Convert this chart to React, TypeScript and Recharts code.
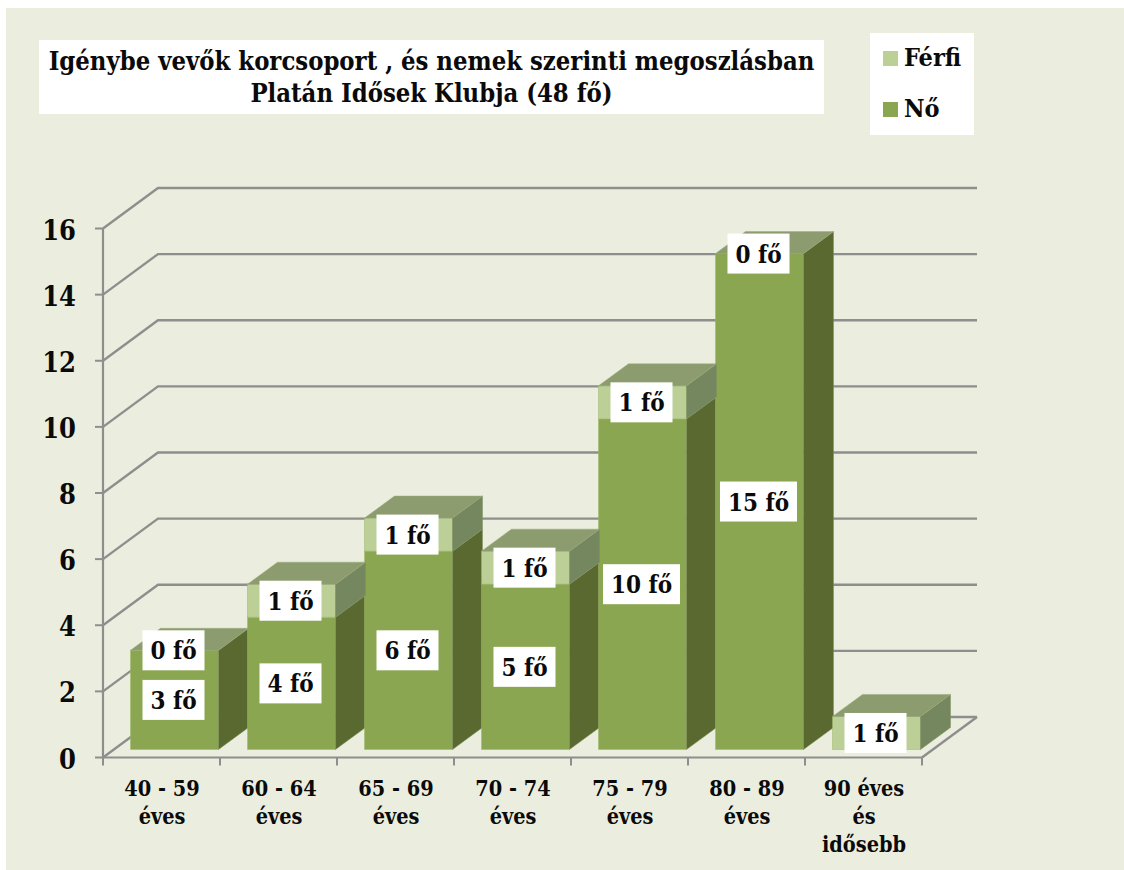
import React from "react";
import { BarChart, Bar, XAxis, YAxis, CartesianGrid, LabelList, Legend } from "recharts";

const categories = ["40 - 59|éves", "60 - 64|éves", "65 - 69|éves", "70 - 74|éves", "75 - 79|éves", "80 - 89|éves", "90 éves|és|idősebb"];
const noValues: (number | null)[] = [3, 4, 6, 5, 10, 15, null];
const ferfiValues = [0, 1, 1, 1, 1, 0, 1];
const yTicks = [0, 2, 4, 6, 8, 10, 12, 14, 16];
const titleLines = ["Igénybe vevők korcsoport , és nemek szerinti megoszlásban", "Platán Idősek Klubja (48 fő)"];
const legendItems = [
  { name: "Férfi", color: "#BBCF96" },
  { name: "Nő", color: "#8AA650" },
];

const data = categories.map((c, i) => ({ cat: c, no: noValues[i], ferfi: ferfiValues[i] }));

const FONT = "'DejaVu Serif Condensed', 'DejaVu Serif', serif";
const GRAY = "#8E8E8E";
const SHIFT_X = 12.5;
const SHIFT_Y = -8;
const DX = 30;
const DY = -22;
const WALL_DX = 55;
const WALL_DY = -40.5;
const WALL_END = 977;

const poly = (pts: number[][]) => pts.map((p) => p.join(",")).join(" ");

function Block({ props, front, side, top }: any) {
  const x = props.x + SHIFT_X;
  const y = props.y + SHIFT_Y;
  const w = props.width;
  const h = props.height;
  if (!(w > 0)) return null;
  return (
    <g>
      {h > 0 && <rect x={x} y={y} width={w} height={h} fill={front} stroke="#9DB56A" strokeOpacity={0.5} strokeWidth={1} />}
      {h > 0 && (
        <polygon
          points={poly([[x + w, y], [x + w + DX, y + DY], [x + w + DX, y + DY + h], [x + w, y + h]])}
          fill={side}
          stroke="#7F9260"
          strokeOpacity={0.5}
          strokeWidth={1}
        />
      )}
      {top && (
        <polygon
          points={poly([[x, y], [x + DX, y + DY], [x + w + DX, y + DY], [x + w, y]])}
          fill={top}
          stroke="#9DAC80"
          strokeOpacity={0.5}
          strokeWidth={1}
        />
      )}
    </g>
  );
}

const NoShape = (props: any) => <Block props={props} front="#8AA650" side="#59692F" />;
const FerfiShape = (props: any) => <Block props={props} front="#BBCF96" side="#75875F" top="#8C9C6F" />;

function ValueLabel(props: any) {
  const { x, y, width, height, value } = props;
  if (value === null || value === undefined) return null;
  const text = `${value} fő`;
  const cx = x + width / 2 + SHIFT_X - 1;
  const cy = y + height / 2 + SHIFT_Y;
  const bw = String(value).length > 1 ? 77 : 62;
  return (
    <g>
      <rect x={cx - bw / 2} y={cy - 20} width={bw} height={40} fill="#FFFFFF" />
      <text x={cx} y={cy + 9} textAnchor="middle" fontFamily={FONT} fontWeight={700} fontSize={24} fill="#0A0A0A">
        {text}
      </text>
    </g>
  );
}

function GridLine(props: any) {
  const { x1, x2, y1, index } = props;
  const isFloor = Math.abs(y1 - 757.5) < 1;
  return (
    <g key={index}>
      <polyline
        points={poly([[x1, y1], [x1 + WALL_DX, y1 + WALL_DY], [WALL_END, y1 + WALL_DY]])}
        fill="none"
        stroke={GRAY}
        strokeWidth={2.4}
      />
      {isFloor && (
        <line x1={x2} y1={y1} x2={x2 + WALL_DX} y2={y1 + WALL_DY} stroke={GRAY} strokeWidth={2.4} />
      )}
    </g>
  );
}

function CatTick(props: any) {
  const { x, y, payload, index } = props;
  const half = 58.5;
  const lines = String(payload.value).split("|");
  return (
    <g>
      {index === 0 && <line x1={x - half} y1={y} x2={x - half} y2={y + 8} stroke={GRAY} strokeWidth={2} />}
      <line x1={x + half} y1={y} x2={x + half} y2={y + 8} stroke={GRAY} strokeWidth={2} />
      {lines.map((l, i) => (
        <text key={i} x={x + 0.5} y={y + 38 + i * 28} textAnchor="middle" fontFamily={FONT} fontWeight={700} fontSize={21.5} fill="#0A0A0A">
          {l}
        </text>
      ))}
    </g>
  );
}

function LegendBox() {
  return (
    <div style={{ position: "absolute", left: 870, top: 33, width: 104, height: 102, background: "#FFFFFF" }}>
      {legendItems.map((it, i) => (
        <div key={it.name} style={{ position: "absolute", left: 13, top: 18 + i * 51, height: 15 }}>
          <div style={{ position: "absolute", left: 0, top: 0, width: 15, height: 15, background: it.color }} />
          <div
            style={{
              position: "absolute",
              left: 21,
              top: -9,
              lineHeight: "32px",
              fontFamily: FONT,
              fontWeight: 700,
              fontSize: 25,
              color: "#0A0A0A",
              whiteSpace: "nowrap",
            }}
          >
            {it.name}
          </div>
        </div>
      ))}
    </div>
  );
}

export default function App() {
  return (
    <div style={{ position: "absolute", left: 0, top: 0, width: 1124, height: 870, background: "#FFFFFF", overflow: "hidden" }}>
      <div style={{ position: "absolute", left: 6, top: 8, width: 1118, height: 862, background: "#EBEEDE" }} />
      <div
        style={{
          position: "absolute",
          left: 39,
          top: 40,
          width: 785,
          height: 74,
          background: "#FFFFFF",
          textAlign: "center",
          fontFamily: FONT,
          fontWeight: 700,
          fontSize: 25.4,
          lineHeight: "32px",
          paddingTop: 5,
          boxSizing: "border-box",
          color: "#0A0A0A",
          whiteSpace: "nowrap",
        }}
      >
        {titleLines.map((t) => (
          <div key={t}>{t}</div>
        ))}
      </div>
      <div style={{ position: "absolute", left: 0, top: 0 }}>
        <BarChart
          width={1124}
          height={870}
          data={data}
          margin={{ top: 228.5, right: 202, bottom: 0, left: 0 }}
          style={{ background: "transparent" }}
        >
          <CartesianGrid vertical={false} horizontal={GridLine as any} />
          <XAxis
            dataKey="cat"
            interval={0}
            height={112.5}
            tickLine={false}
            tickSize={0}
            tickMargin={0}
            axisLine={{ stroke: GRAY, strokeWidth: 2.2 }}
            tick={CatTick as any}
          />
          <YAxis
            width={103}
            domain={[0, 16]}
            ticks={yTicks}
            interval={0}
            tickSize={8}
            tickMargin={19}
            axisLine={{ stroke: GRAY, strokeWidth: 2.2 }}
            tickLine={{ stroke: GRAY, strokeWidth: 2 }}
            tick={{ fontFamily: FONT, fontWeight: 700, fontSize: 27, fill: "#0A0A0A", dy: 1.5 } as any}
          />
          <Legend content={LegendBox as any} wrapperStyle={{ left: 0, top: 0, width: 0, height: 0 }} />
          <Bar dataKey="no" name="Nő" stackId="a" barSize={88} shape={NoShape as any} isAnimationActive={false}>
            <LabelList dataKey="no" content={ValueLabel as any} />
          </Bar>
          <Bar dataKey="ferfi" name="Férfi" stackId="a" barSize={88} shape={FerfiShape as any} isAnimationActive={false}>
            <LabelList dataKey="ferfi" content={ValueLabel as any} />
          </Bar>
        </BarChart>
      </div>
    </div>
  );
}
